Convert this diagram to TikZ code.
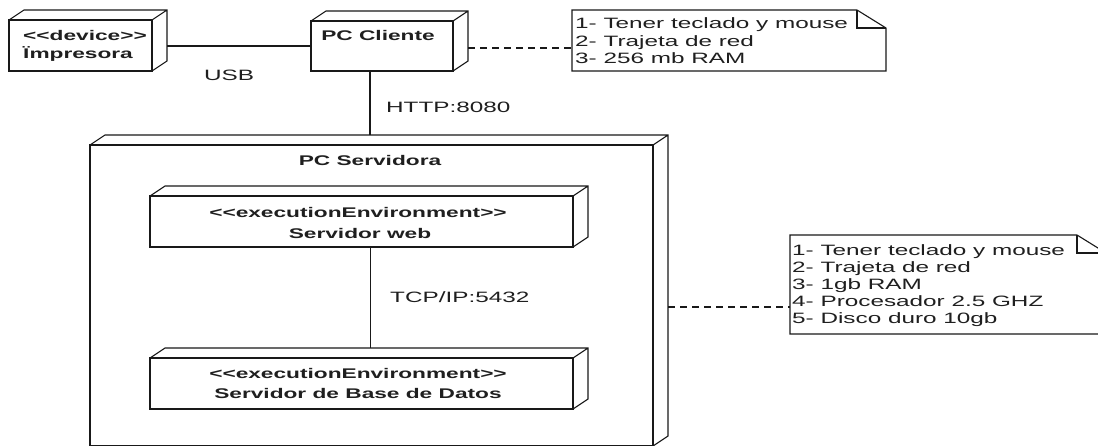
\documentclass[tikz,border=0pt]{standalone}
\usepackage{fontspec}
\setmainfont[FakeStretch=1.62]{Liberation Sans}
\usetikzlibrary{calc}

\tikzset{
  edge/.style={line width=1.1pt, draw=black!90},
  cubebox/.style={edge, draw, inner sep=0pt, outer sep=0pt, anchor=north west},
  notebox/.style={inner sep=0pt, outer sep=0pt, anchor=north west},
  reg/.style={inner sep=0pt, text=black!88, font=\fontsize{15}{17}\selectfont},
  bld/.style={inner sep=0pt, text=black!88, font=\fontsize{14}{16}\selectfont\bfseries},
  link/.style={edge},
  dep/.style={edge, dash pattern=on 7pt off 5pt},
}

% guillemet-free stereotype brackets
\newcommand\stlt{<\kern0pt<\kern0pt}
\newcommand\stgt{\kern0pt>\kern0pt>}

% depth faces of a UML node drawn behind its front face
\newcommand\cubedepth[1]{%
  \draw[edge] (#1.north west) -- ++(15,-10) -- ($(#1.north east)+(15,-10)$)
    -- ($(#1.south east)+(15,-10)$) -- (#1.south east)
    (#1.north east) -- ++(15,-10);}

% note outline with folded corner
\newcommand\noteoutline[1]{%
  \draw[edge] (#1.north west) -- ([xshift=-29pt]#1.north east)
    -- ([yshift=-18pt]#1.north east) -- (#1.south east) -- (#1.south west) -- cycle;
  \draw[edge] ([xshift=-29pt]#1.north east) -- ([xshift=-29pt,yshift=-18pt]#1.north east)
    -- ([yshift=-18pt]#1.north east);}

\begin{document}
\begin{tikzpicture}[x=1pt,y=-1pt]
\fill[white] (0,0) rectangle (1098,445);
\useasboundingbox (0,0) rectangle (1098,445);
\clip (0,0) rectangle (1098,445);

% nodes (front faces)
\node[cubebox, minimum width=143pt, minimum height=51pt] (imp) at (9,20) {};
\node[cubebox, minimum width=142pt, minimum height=50pt] (cli) at (311,21) {};
\node[cubebox, minimum width=563pt, minimum height=301pt] (srv) at (90,145) {};
\node[cubebox, minimum width=423pt, minimum height=51pt] (web) at (150,196) {};
\node[cubebox, minimum width=423pt, minimum height=51pt] (db) at (150,358) {};
\foreach \n in {imp,cli,srv,web,db} {\cubedepth{\n}}

% labels
\node[bld, anchor=base west] (imp-st) at (23,40) {\stlt device\stgt};
\node[bld, anchor=base west] (imp-nm) at (23,58) {Ïmpresora};
\node[bld, anchor=base] (cli-nm) at (378,40) {PC Cliente};
\node[bld, anchor=base] (srv-nm) at (370,165) {PC Servidora};
\node[bld, anchor=base] (web-st) at (358,217) {\stlt executionEnvironment\stgt};
\node[bld, anchor=base] (web-nm) at (360,238) {Servidor web};
\node[bld, anchor=base] (db-st) at (358,378) {\stlt executionEnvironment\stgt};
\node[bld, anchor=base] (db-nm) at (358,398) {Servidor de Base de Datos};

% notes
\node[notebox, minimum width=314pt, minimum height=61pt] (n1) at (572,10) {};
\node[notebox, minimum width=316pt, minimum height=99pt] (n2) at (790,235) {};
\noteoutline{n1}
\noteoutline{n2}
\node[reg, anchor=base west] (n1a) at (575,28.5) {1- Tener teclado y mouse};
\node[reg, anchor=base west] (n1b) at (575,46) {2- Trajeta de red};
\node[reg, anchor=base west] (n1c) at (575,63.5) {3- 256 mb RAM};
\node[reg, anchor=base west] (n2a) at (792,255) {1- Tener teclado y mouse};
\node[reg, anchor=base west] (n2b) at (792,272) {2- Trajeta de red};
\node[reg, anchor=base west] (n2c) at (792,289) {3- 1gb RAM};
\node[reg, anchor=base west] (n2d) at (792,306) {4- Procesador 2.5 GHZ};
\node[reg, anchor=base west] (n2e) at (792,323) {5- Disco duro 10gb};

% connectors
\draw[link] ([xshift=15pt]imp.east |- cli.west) -- (cli.west);
\node[reg, anchor=base] (usb) at (229,80) {USB};

\coordinate (srvtop) at ([yshift=10pt]srv.north);
\draw[link] ([xshift=-12pt]cli.south) -- ([xshift=-12pt]cli.south |- srvtop);
\node[reg, anchor=base west] (http) at (386,112) {HTTP:8080};

\coordinate (dbtop) at ([yshift=10pt]db.north);
\draw[link] ([xshift=9pt]web.south) -- ([xshift=9pt]web.south |- dbtop);
\node[reg, anchor=base west] (tcp) at (390,302) {TCP/IP:5432};

\draw[dep] ([xshift=15pt,yshift=-2pt]cli.east) -- ([yshift=-2pt]cli.east -| n1.west);
\draw[dep] ([xshift=15pt]srv.east |- 0,307) -- (n2.west |- 0,307);
\end{tikzpicture}
\end{document}
